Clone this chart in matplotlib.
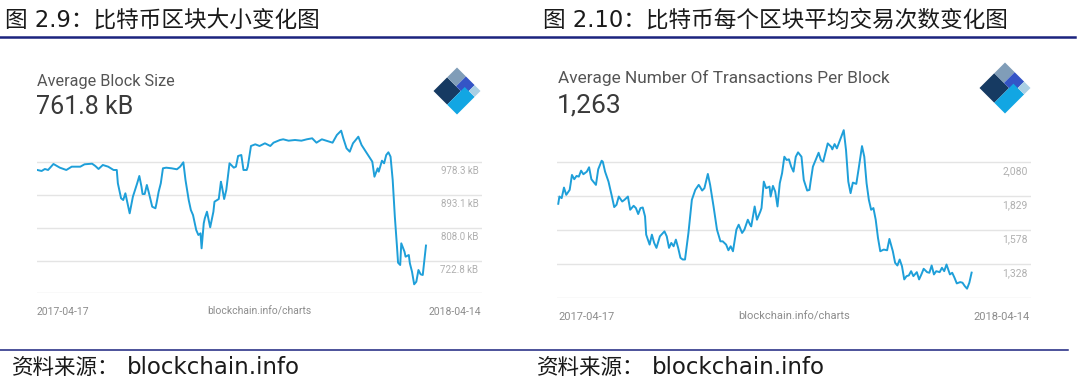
import pandas as pd
import matplotlib
matplotlib.use("Agg")
import matplotlib.pyplot as plt
from matplotlib.lines import Line2D
from matplotlib.patches import Polygon

# ---- data ----
start = pd.Timestamp("2017-04-17")

size_days = [0, 4, 7, 10, 15, 21, 27, 32, 40, 44, 51, 54, 57, 61, 66, 71, 74, 75, 78, 80,
             82, 84, 86, 89, 93, 95, 97, 98, 100, 102, 104, 107, 110, 111, 113, 115, 117, 120, 125, 130,
             133, 136, 138, 141, 143, 145, 148, 150, 152, 153, 155, 156, 158, 161, 164, 165, 169, 171, 172, 174,
             176, 179, 183, 185, 187, 190, 192, 195, 196, 199, 203, 207, 212, 217, 220, 226, 229, 234, 240, 246,
             251, 256, 260, 265, 270, 275, 279, 283, 285, 288, 291, 294, 296, 299, 302, 306, 310, 312, 314, 317,
             318, 321, 323, 325, 327, 329, 331, 333, 335, 336, 338, 339, 342, 343, 346, 347, 349, 351, 353, 355,
             357, 359, 362]
size_kb = [958.3, 955.7, 960.9, 958.3, 973.9, 964.3, 958.3, 966.9, 966.9, 973.1,
           974.7, 968.7, 960.9, 971.3, 966.9, 958.3, 958.3, 923.7, 884.7, 880.2,
           897.7, 871.7, 845.6, 888.8, 923.7, 942.7, 914.8, 895.8, 895.8, 919.3,
           897.7, 862.8, 858.7, 871.7, 901.8, 923.7, 962.7, 964.3, 962.7, 960.1,
           966.9, 978.3, 932.3, 880.2, 854.2, 841.2, 802.2, 789.2, 793.6, 754.6,
           819.6, 832.6, 849.8, 809.2, 849.8, 875.8, 882.8, 927.8, 914.8, 882.8,
           906.3, 975.7, 964.3, 966.9, 994.7, 997.3, 958.3, 958.3, 966.9, 1020.7,
           1025.1, 1020.7, 1027.7, 1020.7, 1029.3, 1036.3, 1038.1, 1034.5, 1036.3, 1034.5,
           1038.1, 1040.7, 1029.3, 1038.1, 1033.7, 1029.3, 1049.3, 1060.5, 1040.7, 1014.7,
           1005.9, 1027.7, 1034.5, 1044.9, 1023.3, 1005.9, 988.7, 979.9, 940.8, 962.7,
           953.9, 982.5, 975.7, 997.3, 1004.3, 992.9, 932.3, 836.8, 758.8, 717.2,
           711.2, 767.6, 745.8, 732.8, 737.2, 715.6, 693.7, 661.0, 667.7, 698.2,
           687.0, 685.2, 761.8]
size_ticks = [978.3, 893.1, 808.0, 722.8]
size_labels = ["978.3 kB", "893.1 kB", "808.0 kB", "722.8 kB"]

tx_days = [0, 1, 3, 5, 7, 10, 12, 14, 16, 18, 20, 22, 25, 27, 29, 33, 35, 38, 39, 41,
           44, 47, 49, 51, 53, 56, 58, 61, 63, 66, 68, 70, 72, 74, 76, 77, 80, 82, 84, 86,
           89, 93, 95, 97, 99, 101, 103, 105, 107, 109, 111, 114, 117, 120, 123, 124, 126, 128, 131, 133,
           136, 139, 142, 144, 147, 149, 151, 153, 156, 158, 161, 163, 166, 168, 169, 172, 174, 177, 178, 180,
           182, 185, 186, 188, 190, 192, 194, 196, 198, 200, 202, 204, 206, 208, 210, 213, 215, 218, 220, 221,
           223, 226, 228, 230, 232, 236, 239, 240, 242, 244, 247, 250, 252, 254, 256, 258, 261, 263, 266, 268,
           270, 272, 274, 276, 278, 280, 282, 285, 288, 290, 293, 295, 297, 299, 301, 303, 305, 307, 309, 311,
           314, 316, 318, 320, 323, 325, 327, 329, 331, 334, 336, 338, 340, 343, 345, 347, 349, 352, 354, 356,
           358, 360, 362]
tx_count = [1772.7, 1826.5, 1814.7, 1892.8, 1839, 1875.9, 1986.4, 1954.7, 1979, 1973.9,
            2018.1, 1991.6, 2010.7, 2043.2, 1954.7, 1912.7, 2028.4, 2091.8, 2084.4, 2010.7,
            1937, 1826.5, 1748.3, 1765.3, 1826.5, 1789.6, 1802.2, 1826.5, 1728.5, 1757.9,
            1741, 1696.8, 1741, 1745.4, 1679.1, 1544.2, 1470.5, 1544.2, 1483, 1446.2,
            1531.7, 1568.5, 1531.7, 1446.2, 1483, 1458, 1507.4, 1446.2, 1372.5, 1360,
            1360, 1556.7, 1802.2, 1875.9, 1912.7, 1900.2, 1870.7, 1888.4, 1993.8, 1912.7,
            1752.8, 1581.1, 1494.8, 1494.8, 1470.5, 1428.5, 1458, 1421.1, 1581.1, 1617.9,
            1556.7, 1581.1, 1654.8, 1617.9, 1605.4, 1752.8, 1654.8, 1715.9, 1741, 1937,
            1888.4, 1900.2, 1826.5, 1905.3, 1863.3, 1752.8, 1925.2, 1998.9, 2121.3, 2097,
            2102.1, 2047.6, 2010.7, 2121.3, 2153.7, 2121.3, 1949.6, 1870.7, 1875.9, 1937,
            2047.6, 2109.5, 2150.8, 2097, 2084.4, 2220, 2195, 2175.8, 2214.9, 2183.2,
            2249.5, 2318, 2170.7, 1937, 1851.5, 1929.7, 1920.1, 2028.4, 2200.1, 2121.3,
            1925.2, 1802.2, 1728.5, 1741, 1654.8, 1519.9, 1421.1, 1433.7, 1428.5, 1512.5,
            1421.1, 1335.6, 1315.7, 1360, 1310.6, 1212.6, 1236.9, 1242, 1273.7, 1236.9,
            1266.4, 1212.6, 1249.4, 1291.4, 1266.4, 1261.9, 1315.7, 1249.4, 1273.7, 1266.4,
            1298.8, 1273.7, 1323.1, 1249.4, 1261.9, 1225.1, 1183.1, 1192.7, 1188.2, 1163.2,
            1144, 1188.2, 1263]
tx_ticks = [2080, 1829, 1578, 1328]
tx_labels = ["2,080", "1,829", "1,578", "1,328"]

W, H = 1080, 383
CJK = ["DejaVu Sans", "Noto Sans CJK SC"]
LINE = "#1e9fd9"
NAVY = "#1b237e"


def fx(x):
    return x / W


def fy(y):
    return 1 - y / H


def draw_logo(fig, cx, cy, r):
    # blockchain diamond: local (u, v) square, u toward top vertex, v toward bottom vertex
    L = (cx - r, cy)
    du = (r, -r)
    dv = (r, r)

    def cell(u0, u1, v0, v1, color):
        pts = []
        for u, v in [(u0, v0), (u1, v0), (u1, v1), (u0, v1)]:
            px = L[0] + u * du[0] + v * dv[0]
            py = L[1] + u * du[1] + v * dv[1]
            pts.append((fx(px), fy(py)))
        fig.add_artist(Polygon(pts, closed=True, facecolor=color, edgecolor="none",
                               transform=fig.transFigure))

    cell(0, 0.58, 0, 0.58, "#163a62")
    cell(0.58, 1, 0, 0.38, "#809db8")
    cell(0.58, 1, 0.38, 0.75, "#3454c6")
    cell(0, 0.75, 0.58, 1, "#12a6e3")
    cell(0.75, 1, 0.75, 1, "#a9cfe4")


def draw_panel(fig, box, days, vals, ticks, labels, ylim, xpad, fs):
    left, right, top, bottom = box
    ax = fig.add_axes([fx(left), fy(bottom), (right - left) / W, (bottom - top) / H])
    dates = start + pd.to_timedelta(days, unit="D")
    ax.plot(dates, vals, color=LINE, lw=1.4, zorder=3)
    ax.set_ylim(*ylim)
    ax.set_xlim(start - pd.Timedelta(days=xpad[0]), start + pd.Timedelta(days=362 + xpad[1]))
    grid = ticks + [ticks[-1] - (ticks[0] - ticks[1])]
    for g in grid:
        ax.axhline(g, color="#e4e4e4", lw=1.0, zorder=1)
    for t, lab in zip(ticks, labels):
        ax.annotate(lab, xy=(1, t), xycoords=("axes fraction", "data"),
                    xytext=(-2.5, -6.5), textcoords="offset points",
                    ha="right", va="center", fontsize=fs, color="#b0b0b0", family="Roboto")
    ax.axis("off")
    return ax


fig = plt.figure(figsize=(W / 100, H / 100), dpi=100)

# page furniture
fig.text(fx(5), fy(20.5), "图 2.9：比特币区块大小变化图", fontsize=16.3, va="center",
         family=CJK, color="#1a1a1a")
fig.text(fx(543), fy(20.5), "图 2.10：比特币每个区块平均交易次数变化图", fontsize=16.3, va="center",
         family=CJK, color="#1a1a1a")
fig.add_artist(Line2D([fx(0), fx(1075)], [fy(37.3)] * 2, color=NAVY, lw=1.8,
                      transform=fig.transFigure))
fig.add_artist(Line2D([fx(0), fx(1068)], [fy(350)] * 2, color=NAVY, lw=1.1,
                      transform=fig.transFigure))
for x0 in (12, 537):
    fig.text(fx(x0), fy(368), "资料来源：", fontsize=15.5, va="center",
             family=CJK, color="#1a1a1a")
    fig.text(fx(x0 + 114.5), fy(368), "blockchain.info", fontsize=16.5, va="center",
             family=CJK, color="#1a1a1a")

# left chart: average block size
draw_panel(fig, (36.8, 481.8, 120, 293.3), size_days, size_kb, size_ticks, size_labels,
           (637.6, 1088.3), (0.5, 52), 7)
fig.text(fx(37), fy(81.7), "Average Block Size", fontsize=11.7, va="center",
         family="Roboto", color="#555555")
fig.text(fx(36), fy(107.5), "761.8 kB", fontsize=18, va="center",
         family="Roboto", color="#3a3a3a")
for x, lab, ha in [(36.8, "2017-04-17", "left"), (259, "blockchain.info/charts", "center"),
                   (481, "2018-04-14", "right")]:
    fig.text(fx(x), fy(311.7), lab, fontsize=7.5, ha=ha, va="center",
             family="Roboto", color="#8c8c8c")
draw_logo(fig, 457, 91, 23.5)

# right chart: transactions per block
draw_panel(fig, (557, 1031, 120, 297.7), tx_days, tx_count, tx_ticks, tx_labels,
           (1077.2, 2393.3), (1.1, 52), 7.5)
fig.text(fx(558), fy(78.3), "Average Number Of Transactions Per Block", fontsize=12.4,
         va="center", family="Roboto", color="#555555")
fig.text(fx(557), fy(106), "1,263", fontsize=19, va="center",
         family="Roboto", color="#3a3a3a")
for x, lab, ha in [(558, "2017-04-17", "left"), (794, "blockchain.info/charts", "center"),
                   (1030, "2018-04-14", "right")]:
    fig.text(fx(x), fy(316.7), lab, fontsize=8, ha=ha, va="center",
             family="Roboto", color="#8c8c8c")
draw_logo(fig, 1005, 88, 25.5)

fig.savefig("out.png", dpi=100)
plt.close(fig)
